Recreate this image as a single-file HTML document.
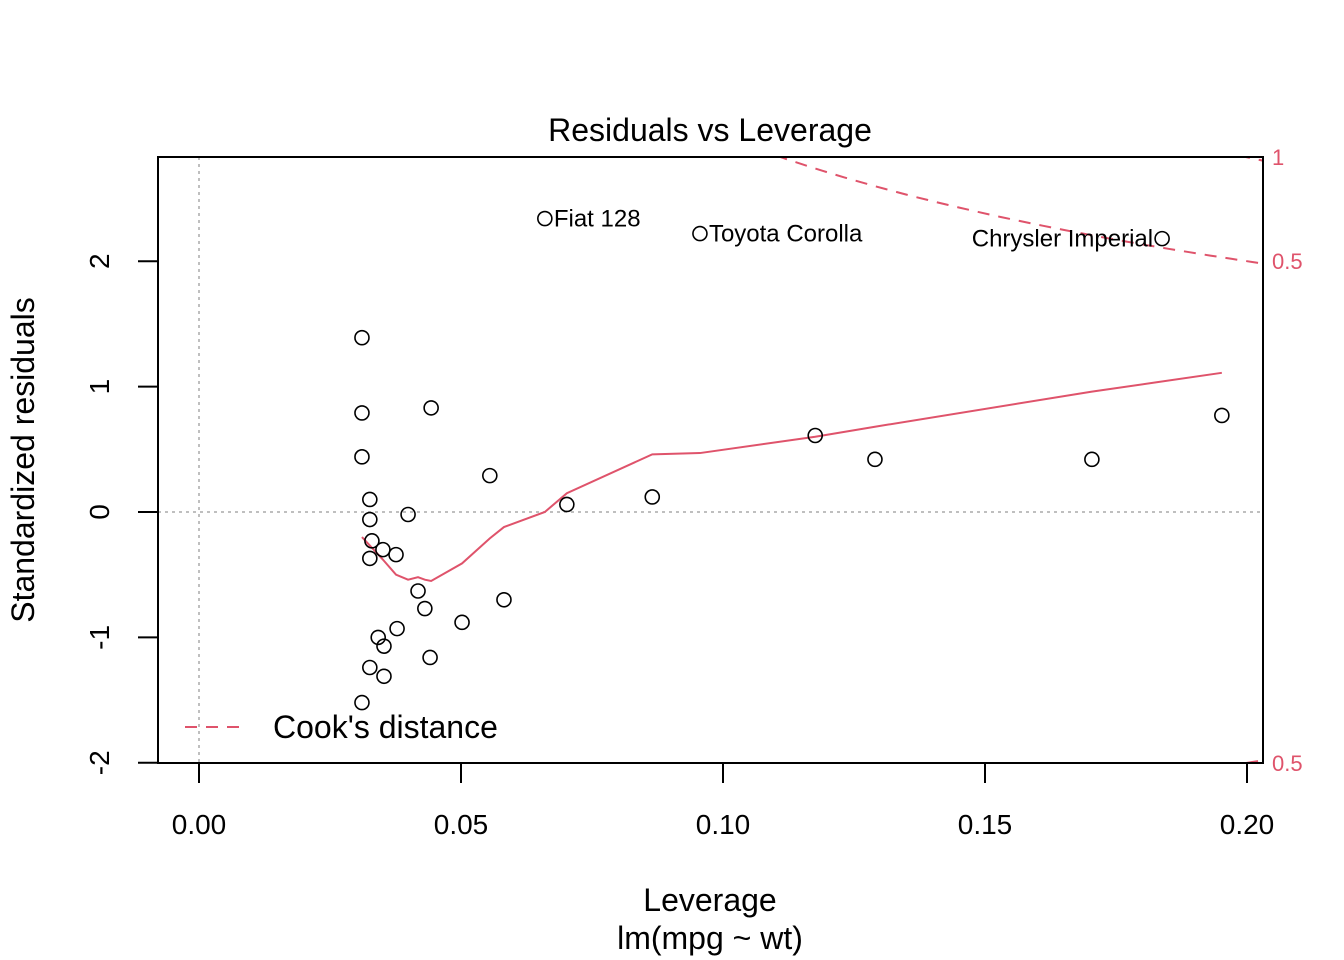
<!DOCTYPE html>
<html><head><meta charset="utf-8"><style>
html,body{margin:0;padding:0;background:#fff;width:1344px;height:960px;overflow:hidden}
svg{display:block}
svg text{font-family:"Liberation Sans",Arial,sans-serif}
</style></head><body>
<svg id="chart" width="1344" height="960" viewBox="0 0 1344 960">
<defs><clipPath id="clip"><rect x="158" y="157" width="1105" height="606"/></clipPath></defs>
</svg>
<script>
const leverage=[0.0311,0.0311,0.0311,0.0326,0.0326,0.033,0.0326,0.0351,0.0376,0.0399,0.0443,0.0555,0.0418,0.0431,0.0582,0.0502,0.0378,0.0342,0.0353,0.0441,0.0326,0.0353,0.0311,0.066,0.0956,0.1838,0.0702,0.0865,0.1176,0.129,0.1704,0.1952];
const stdResid=[1.39,0.79,0.44,0.10,-0.06,-0.23,-0.37,-0.30,-0.34,-0.02,0.83,0.29,-0.63,-0.77,-0.70,-0.88,-0.93,-1.00,-1.07,-1.16,-1.24,-1.31,-1.52,2.34,2.22,2.18,0.06,0.12,0.61,0.42,0.42,0.77];
const pointLabels={23:"Fiat 128",24:"Toyota Corolla",25:"Chrysler Imperial"};
const smoothX=[0.0311,0.0351,0.0376,0.0399,0.0418,0.0431,0.0443,0.0502,0.0555,0.0582,0.066,0.0702,0.0865,0.0956,0.1176,0.129,0.1704,0.1952];
const smoothY=[-0.20,-0.38,-0.50,-0.54,-0.52,-0.54,-0.55,-0.41,-0.21,-0.12,0.00,0.15,0.46,0.47,0.60,0.68,0.96,1.11];
const xTicks=[0,0.05,0.10,0.15,0.20];
const xTickLabels=["0.00","0.05","0.10","0.15","0.20"];
const yTicks=[-2,-1,0,1,2];
const cookLevels=[0.5,1];
const svg=document.getElementById('chart');
const NS='http://www.w3.org/2000/svg';
const X=v=>199+v*5240;
const Y=v=>512-v*125.4;
function mk(tag,attrs,parent){const e=document.createElementNS(NS,tag);for(const k in attrs)e.setAttribute(k,attrs[k]);(parent||svg).appendChild(e);return e;}
const RED='#DF536B';
let e=mk('line',{x1:158,x2:1263,y1:Y(0),y2:Y(0),stroke:'#aaa','stroke-width':1.5,'stroke-dasharray':'3,4'});

e=mk('line',{x1:X(0),x2:X(0),y1:157,y2:763,stroke:'#aaa','stroke-width':1.5,'stroke-dasharray':'3,4'});

const g=mk('g',{'clip-path':'url(#clip)'});
cookLevels.forEach(c=>{[1,-1].forEach(s=>{let d='';for(let h=0.005;h<=0.21;h+=0.002){const r=s*Math.sqrt(c*2*(1-h)/h);d+=(d?'L':'M')+X(h).toFixed(1)+','+Y(r).toFixed(1);}
const p=mk('path',{d:d,fill:'none',stroke:RED,'stroke-width':2,'stroke-dasharray':'12,9'},g);
});});
e=mk('polyline',{points:smoothX.map((v,i)=>X(v)+','+Y(smoothY[i])).join(' '),fill:'none',stroke:RED,'stroke-width':2});

leverage.forEach((v,i)=>{const c=mk('circle',{cx:X(v),cy:Y(stdResid[i]),r:7,fill:'none',stroke:'#000','stroke-width':1.6});

if(pointLabels[i]){const isR=i===25;const t=mk('text',{x:isR?X(v)-9:X(v)+9,y:Y(stdResid[i])+8,'font-size':24,'text-anchor':isR?'end':'start'});t.textContent=pointLabels[i];
}});
e=mk('rect',{x:158,y:157,width:1105,height:606,fill:'none',stroke:'#000','stroke-width':2});

e=mk('line',{x1:X(0),x2:X(0.2),y1:763,y2:763,stroke:'#000','stroke-width':2});
xTicks.forEach((v,i)=>{mk('line',{x1:X(v),x2:X(v),y1:763,y2:783,stroke:'#000','stroke-width':2});
const t=mk('text',{x:X(v),y:834,'font-size':28,'text-anchor':'middle'});t.textContent=xTickLabels[i];
});
yTicks.forEach(v=>{mk('line',{x1:158,x2:138,y1:Y(v),y2:Y(v),stroke:'#000','stroke-width':2});
const t=mk('text',{x:0,y:0,'font-size':28,'text-anchor':'middle',transform:`translate(109,${Y(v)}) rotate(-90)`});t.textContent=v;
});
[[1,157],[0.5,Y(Math.sqrt(0.5*2*0.8/0.2))],[0.5,Y(-Math.sqrt(0.5*2*0.8/0.2))]].forEach(a=>{const t=mk('text',{x:1272,y:a[1]+8,'font-size':22,fill:RED});t.textContent=a[0];
});
const T=(txt,attrs,name)=>{const t=mk('text',attrs);t.textContent=txt;};
T('Residuals vs Leverage',{x:710,y:141,'font-size':32,'text-anchor':'middle'},'chart-title');
T('Leverage',{x:710,y:911,'font-size':32,'text-anchor':'middle'},'x-axis-title');
T('lm(mpg ~ wt)',{x:710,y:949,'font-size':32,'text-anchor':'middle'},'model-caption');
T('Standardized residuals',{x:0,y:0,'font-size':32,'text-anchor':'middle',transform:'translate(34,460) rotate(-90)'},'y-axis-title');
e=mk('line',{x1:185,x2:243,y1:727,y2:727,stroke:RED,'stroke-width':2,'stroke-dasharray':'12,9'});

T("Cook's distance",{x:273,y:738,'font-size':32},'legend-label');
</script>
</body></html>
